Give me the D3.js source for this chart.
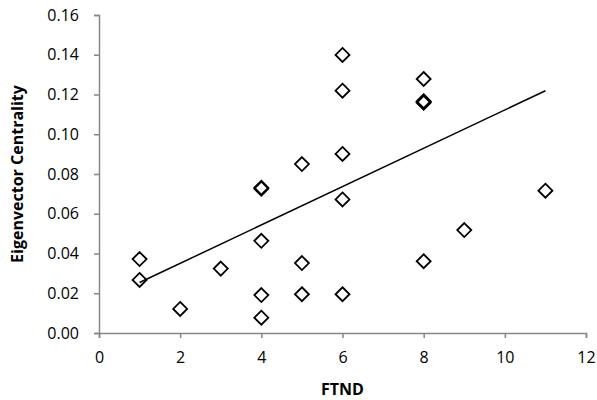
<!DOCTYPE html>
<html>
<head>
<meta charset="utf-8">
<script src="https://cdn.jsdelivr.net/npm/d3@7"></script>
<style>
    body { margin: 0; background: #fff; }
    text { font-family: "Open Sans", Lato, sans-serif; }
</style>
</head>
<body>
<svg id="chart" width="597" height="400"></svg>
<script>
// FTND score vs eigenvector centrality
let ftnd = [1, 1, 2, 3, 4, 4, 4, 4, 4, 5, 5, 5, 6, 6, 6, 6, 6, 8, 8, 8, 8, 8, 9, 11];
let centrality = [0.0372, 0.0267, 0.0121, 0.0324, 0.0464, 0.0191, 0.0077, 0.0731, 0.0726,
    0.0352, 0.0195, 0.0850, 0.1399, 0.1219, 0.0901, 0.0672, 0.0195,
    0.1278, 0.1166, 0.1158, 0.0361, 0.1162, 0.0518, 0.0716];
// linear trendline ends, as drawn in the picture
let trendFtnd = [1, 11];
let trendValues = [0.0254, 0.1219];
let xTicks = [0, 2, 4, 6, 8, 10, 12];
let yTicks = [0, 0.02, 0.04, 0.06, 0.08, 0.10, 0.12, 0.14, 0.16];

let svg = d3.select('#chart');
let padL = 99, padR = 586, padT = 15, padB = 333;

let x = d3.scaleLinear().domain([0, 12]).range([padL, padR]);
let y = d3.scaleLinear().domain([0, 0.16]).range([padB, padT]);

let axisColor = '#868686';

let yAxis = svg.append('g')
    .attr('transform', 'translate(' + padL + ',0)')
    .call(d3.axisLeft(y).tickValues(yTicks).tickFormat(d3.format('.2f')).tickSize(5).tickPadding(15));

let xAxis = svg.append('g')
    .attr('transform', 'translate(0,' + padB + ')')
    .call(d3.axisBottom(x).tickValues(xTicks).tickSize(5).tickPadding(14));

[xAxis, yAxis].forEach(function (g) {
    g.select('.domain').attr('stroke', axisColor).attr('stroke-width', 1.5);
    g.selectAll('.tick line').attr('stroke', axisColor).attr('stroke-width', 1.5);
    g.selectAll('.tick text').attr('fill', '#000').style('font-size', '16px');
});

let trend = trendFtnd.map((d, i) => [d, trendValues[i]]);
svg.append('path')
    .datum(trend)
    .attr('d', d3.line().x((d) => x(d[0])).y((d) => y(d[1])))
    .attr('fill', 'none')
    .attr('stroke', '#000')
    .attr('stroke-width', 1.5);

let pts = ftnd.map((d, i) => [d, centrality[i]]);
let r = 7;
svg.append('g').selectAll('path')
    .data(pts)
    .enter()
    .append('path')
    .attr('d', (d) => {
        let cx = x(d[0]), cy = y(d[1]);
        return 'M' + cx + ',' + (cy - r) + 'L' + (cx + r) + ',' + cy + 'L' + cx + ',' + (cy + r) + 'L' + (cx - r) + ',' + cy + 'Z';
    })
    .attr('fill', 'none')
    .attr('stroke', '#000')
    .attr('stroke-width', 1.8);

svg.append('text')
    .attr('x', (padL + padR) / 2)
    .attr('y', 395)
    .attr('text-anchor', 'middle')
    .style('font-size', '16px')
    .style('font-weight', 'bold')
    .text('FTND');

svg.append('text')
    .attr('transform', 'translate(23,' + (padT + padB) / 2 + ') rotate(-90)')
    .attr('text-anchor', 'middle')
    .style('font-size', '16px')
    .style('font-weight', 'bold')
    .text('Eigenvector Centrality');
</script>
</body>
</html>
